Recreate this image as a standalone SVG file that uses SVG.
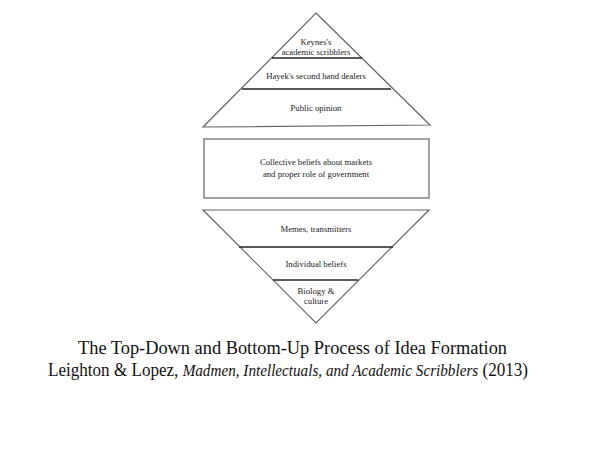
<svg xmlns="http://www.w3.org/2000/svg" width="600" height="450" viewBox="0 0 600 450">
<defs>
<style>
.outline{fill:#fff;stroke:#666;stroke-width:1.2}
.div{stroke:#222;stroke-width:1.5}
.t{font-size:8.7px;fill:#222;text-anchor:middle}
.title{font-size:18px;fill:#111}
</style>
</defs>
<rect width="600" height="450" fill="#fff"/>
<g font-family="Liberation Serif, serif">
<g id="top-pyramid">
<polygon class="outline" points="316,13 430,125 203,127"/>
<line class="div" x1="272" y1="58" x2="362" y2="58"/>
<line class="div" x1="242" y1="89" x2="391" y2="89"/>
</g>
<g id="keynes"><text class="t" x="316" y="45">Keynes's</text><text class="t" x="316" y="55">academic scribblers</text></g>
<g id="hayek"><text class="t" x="316" y="79">Hayek's second hand dealers</text></g>
<g id="public"><text class="t" x="316" y="111">Public opinion</text></g>
<g id="collective">
<rect class="outline" x="204" y="139" width="225" height="59"/>
<text class="t" x="316" y="165">Collective beliefs about markets</text>
<text class="t" x="316" y="177">and proper role of government</text>
</g>
<g id="bottom-pyramid">
<polygon class="outline" points="203,210 429,210 316,323"/>
<line class="div" x1="239" y1="247" x2="393" y2="247"/>
<line class="div" x1="273" y1="280" x2="358" y2="280"/>
</g>
<g id="memes"><text class="t" x="316" y="232">Memes, transmitters</text></g>
<g id="individual"><text class="t" x="316" y="267">Individual beliefs</text></g>
<g id="biology"><text class="t" x="316" y="294">Biology &amp;</text><text class="t" x="316" y="304">culture</text></g>
<g id="connectors"></g>
<g id="caption">
<text class="title" x="78" y="354" textLength="429" lengthAdjust="spacingAndGlyphs">The Top-Down and Bottom-Up Process of Idea Formation</text>
<text class="title" x="48" y="376" textLength="480" lengthAdjust="spacingAndGlyphs">Leighton &amp; Lopez, <tspan font-style="italic" font-size="16">Madmen, Intellectuals, and Academic Scribblers</tspan> (2013)</text>
</g>
</g>
</svg>
